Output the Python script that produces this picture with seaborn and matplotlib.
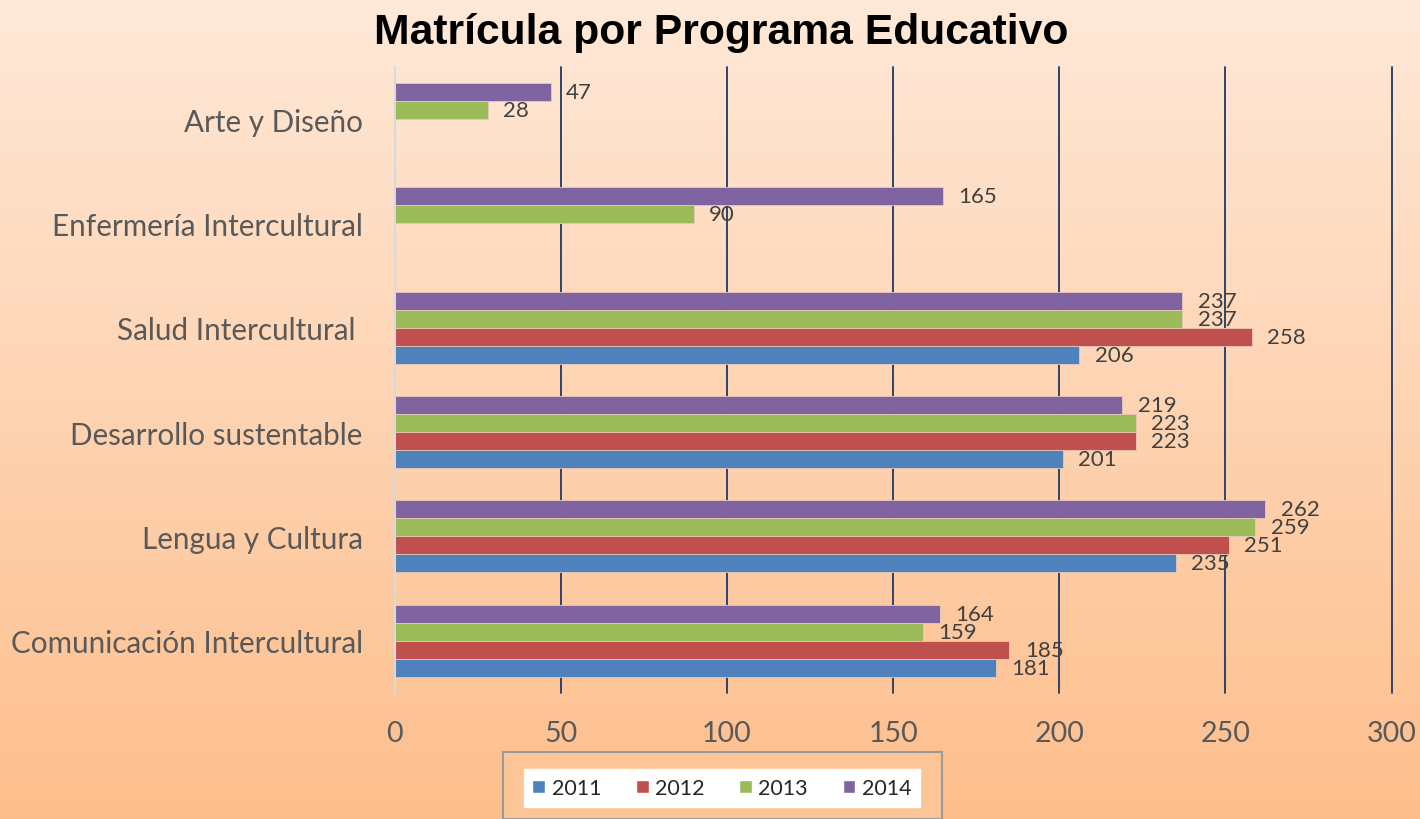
import numpy as np
import pandas as pd
import seaborn as sns
import matplotlib
matplotlib.use('Agg')
import matplotlib.pyplot as plt
from matplotlib.patches import Rectangle, Patch

# data (top to bottom)
programs = ['Arte y Diseño', 'Enfermería Intercultural', 'Salud Intercultural ',
            'Desarrollo sustentable', 'Lengua y Cultura', 'Comunicación Intercultural']
years = ['2011', '2012', '2013', '2014']
v2011 = [np.nan, np.nan, 206, 201, 235, 181]
v2012 = [np.nan, np.nan, 258, 223, 251, 185]
v2013 = [28, 90, 237, 223, 259, 159]
v2014 = [47, 165, 237, 219, 262, 164]
colors = {'2011': '#4F81BD', '2012': '#C0504D', '2013': '#9BBB59', '2014': '#8064A2'}

df = pd.DataFrame({'programa': programs * 4,
                   'year': np.repeat(years, len(programs)),
                   'valor': v2011 + v2012 + v2013 + v2014})

sns.set_style('white')
plt.rcParams['font.family'] = ['Lato', 'DejaVu Sans']

fig = plt.figure(figsize=(14.2, 8.2), dpi=100)

# background gradient
bg = fig.add_axes([0, 0, 1, 1], zorder=-10)
grad = np.linspace(0, 1, 256).reshape(-1, 1)
top = np.array([255, 233, 216]) / 255
bot = np.array([253, 190, 140]) / 255
img = top + (bot - top) * grad[..., None]
bg.imshow(img, aspect='auto', extent=[0, 1, 0, 1])
bg.axis('off')

ax = fig.add_axes([0.278, 0.154, 0.702, 0.763])
ax.set_facecolor('none')
sns.barplot(data=df, y='programa', x='valor', hue='year', order=programs,
            hue_order=years[::-1], palette=colors, orient='h', width=0.69,
            saturation=1, edgecolor='#E8C8B8', linewidth=0.6, ax=ax,
            legend=False, zorder=3)

ax.set_xlim(0, 300)
ax.set_ylim(5.5, -0.5)
ax.set_xticks(range(0, 301, 50))
ax.grid(axis='x', color='#1F3864', linewidth=1.3, zorder=0)
ax.grid(axis='y', visible=False)
for gl in ax.get_xgridlines():
    gl.set_clip_on(False)
ax.set_axisbelow(True)
for s in ['top', 'right', 'bottom']:
    ax.spines[s].set_visible(False)
ax.spines['left'].set_color('#D9D9D9')
ax.spines['left'].set_linewidth(1.5)
ax.spines['left'].set_zorder(4)
ax.tick_params(axis='y', length=0, pad=23, labelsize=21.3, labelcolor='#595959')
ax.tick_params(axis='x', length=0, pad=20, labelsize=20.5, labelcolor='#595959')
ax.set_xlabel('')
ax.set_ylabel('')

for cont in ax.containers:
    labs = ['' if np.isnan(w) else f'{w:.0f}' for w in cont.datavalues]
    ax.bar_label(cont, labels=labs, padding=11, fontsize=16, color='#404040')

fig.text(0.508, 0.96, 'Matrícula por Programa Educativo', ha='center', va='center',
         fontsize=30.7, fontweight='bold', family='Liberation Sans', color='black')

# legend frame
fig.patches.append(Rectangle((503 / 1420, 0), 439 / 1420, 67 / 820, transform=fig.transFigure,
                             facecolor='#FCC596', edgecolor='#9A9A9A', linewidth=1.5, zorder=1))
handles = [Patch(facecolor=colors[y]) for y in years]
leg = fig.legend(handles, years, loc='center', bbox_to_anchor=(722 / 1420, 1 - 789 / 820),
                 ncol=4, frameon=True, fancybox=False, framealpha=1, facecolor='white',
                 edgecolor='white', fontsize=15.5, handlelength=0.6, handleheight=0.6,
                 handletextpad=0.3, columnspacing=1.6, borderpad=0.4, borderaxespad=0)
for t in leg.get_texts():
    t.set_color('#262626')

fig.savefig('out.png', dpi=100)
